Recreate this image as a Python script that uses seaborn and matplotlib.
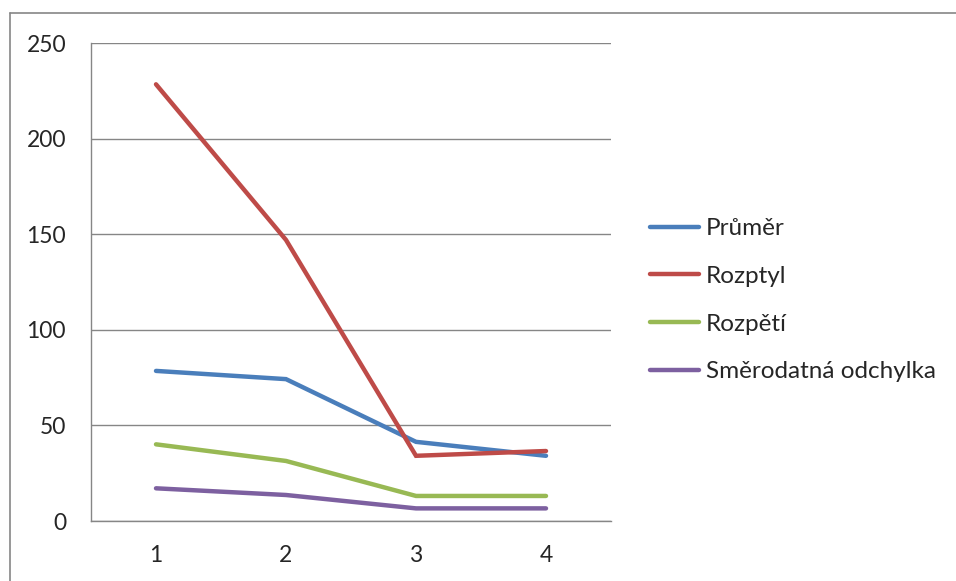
import matplotlib
matplotlib.use("Agg")
import matplotlib.pyplot as plt
import seaborn as sns
import pandas as pd
from matplotlib.lines import Line2D

categories = [1, 2, 3, 4]
prumer = [78.5, 74.2, 41.4, 34.1]
rozptyl = [228.4, 147.0, 34.1, 36.6]
rozpeti = [40.1, 31.4, 13.1, 13.1]
smerodatna = [17.1, 13.6, 6.6, 6.6]
series_names = ["Průměr", "Rozptyl", "Rozpětí", "Směrodatná odchylka"]
colors = ["#4A7EBB", "#BE4B48", "#98B954", "#7D60A0"]
y_ticks = [0, 50, 100, 150, 200, 250]

sns.set_theme(style="white")
plt.rcParams['font.family'] = ['Lato', 'DejaVu Sans']

rows = []
for name, vals in zip(series_names, [prumer, rozptyl, rozpeti, smerodatna]):
    for c, v in zip(categories, vals):
        rows.append({"cat": c, "value": v, "series": name})
df = pd.DataFrame(rows)

W, H = 956, 581
fig = plt.figure(figsize=(W / 100, H / 100), dpi=100)
ax = fig.add_axes([91 / W, 1 - 521 / H, 520 / W, 478 / H])

sns.lineplot(data=df, x="cat", y="value", hue="series", palette=colors,
             hue_order=series_names, linewidth=3.2, ax=ax, legend=False,
             solid_capstyle="round", solid_joinstyle="miter")

fs = 16.5
ax.set_xlim(0.5, 4.5)
ax.set_ylim(0, 250)
ax.set_yticks(y_ticks)
ax.set_yticklabels([str(t) for t in y_ticks], fontsize=fs)
ax.set_xticks([0.5, 1.5, 2.5, 3.5, 4.5])
ax.set_xticklabels([])
ax.set_xticks(categories, minor=True)
ax.set_xticklabels([str(c) for c in categories], minor=True, fontsize=fs)
ax.tick_params(axis='x', which='major', length=6.5, color='#868686', width=1, direction='out')
ax.tick_params(axis='x', which='minor', length=0, pad=17)
ax.tick_params(axis='y', length=6, color='#868686', width=1, direction='out', pad=12)
ax.set_xlabel("")
ax.set_ylabel("")
ax.grid(axis='y', color='#868686', linewidth=1)
for s in ["top", "right"]:
    ax.spines[s].set_visible(False)
for s in ["left", "bottom"]:
    ax.spines[s].set_color('#868686')
    ax.spines[s].set_linewidth(1)

handles = [Line2D([], [], color=c, linewidth=3.2, solid_capstyle="round") for c in colors]
fig.legend(handles, series_names, loc="upper left", bbox_to_anchor=(650 / W, 1 - 218 / H),
           frameon=False, fontsize=17.5, handlelength=2.0, handletextpad=0.3,
           labelspacing=1.1, borderaxespad=0, borderpad=0)

# outer chart border (left and top edges visible)
fig.add_artist(Line2D([9.5 / W, 9.5 / W], [0, 1 - 12.5 / H], transform=fig.transFigure,
                      color='#868686', linewidth=1.2))
fig.add_artist(Line2D([9.5 / W, 1], [1 - 12.5 / H, 1 - 12.5 / H], transform=fig.transFigure,
                      color='#868686', linewidth=1.2))

fig.savefig("out.png", dpi=100)
